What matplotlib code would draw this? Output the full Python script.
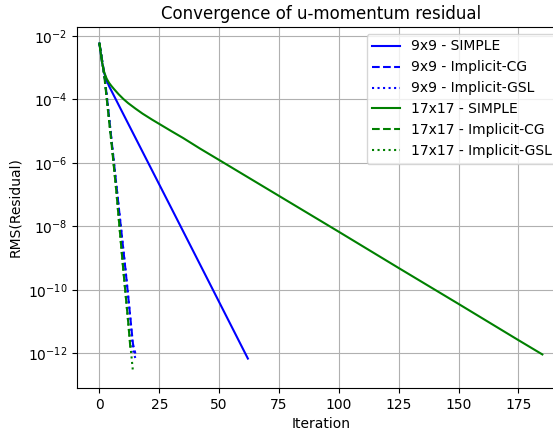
import matplotlib
matplotlib.use("Agg")
import matplotlib.pyplot as plt
from matplotlib.ticker import NullLocator

# RMS residual of the u-momentum equation per iteration (log10 values)
simple_9_iter = [0, 1, 2, 3, 4, 5, 10, 18, 30, 45, 62]
simple_9_log = [-2.24, -2.80, -3.18, -3.40, -3.58, -3.73, -4.47, -5.65, -7.42, -9.64, -12.16]

cg_9_iter = list(range(16))
cg_9_log = [-2.24, -2.72, -3.20, -3.85, -4.55, -5.25, -5.95, -6.65,
            -7.35, -8.05, -8.75, -9.45, -10.20, -10.95, -11.70, -12.00]

gsl_9_iter = list(range(16))
gsl_9_log = [-2.24, -2.72, -3.20, -3.85, -4.55, -5.25, -5.95, -6.65,
             -7.35, -8.05, -8.75, -9.45, -10.20, -10.95, -11.90, -12.15]

simple_17_iter = [0, 1, 2, 3, 4, 5, 6, 8, 10, 12, 15, 18, 22, 26, 30, 35,
                  42, 50, 75, 100, 125, 150, 175, 185]
simple_17_log = [-2.24, -2.80, -3.15, -3.35, -3.48, -3.58, -3.67, -3.84, -3.99,
                 -4.12, -4.29, -4.45, -4.64, -4.82, -5.00, -5.22, -5.55, -5.91,
                 -7.04, -8.17, -9.31, -10.44, -11.58, -12.03]

cg_17_iter = list(range(14))
cg_17_log = [-2.24, -2.74, -3.24, -3.95, -4.65, -5.35, -6.10, -6.85,
             -7.70, -8.55, -9.40, -10.20, -11.00, -11.90]

gsl_17_iter = list(range(15))
gsl_17_log = [-2.24, -2.74, -3.24, -3.95, -4.65, -5.35, -6.10, -6.85,
              -7.70, -8.55, -9.40, -10.20, -11.00, -11.80, -12.57]

series = [
    ("9x9 - SIMPLE", simple_9_iter, simple_9_log, "b", "-"),
    ("9x9 - Implicit-CG", cg_9_iter, cg_9_log, "b", "--"),
    ("9x9 - Implicit-GSL", gsl_9_iter, gsl_9_log, "b", ":"),
    ("17x17 - SIMPLE", simple_17_iter, simple_17_log, "g", "-"),
    ("17x17 - Implicit-CG", cg_17_iter, cg_17_log, "g", "--"),
    ("17x17 - Implicit-GSL", gsl_17_iter, gsl_17_log, "g", ":"),
]

fig = plt.figure(figsize=(5.53, 4.32), dpi=100)
W, H = 553, 432
left, right, top, bottom = 77.3, 564.5, 27.0, 388.0
ax = fig.add_axes([left / W, (H - bottom) / H, (right - left) / W, (bottom - top) / H])

for label, it, lg, color, ls in series:
    ax.plot(it, [10.0 ** v for v in lg], color=color, linestyle=ls, label=label)

ax.set_yscale("log")
ax.yaxis.set_minor_locator(NullLocator())
ax.grid(True)
ax.set_title("Convergence of u-momentum residual")
ax.set_xlabel("Iteration")
ax.set_ylabel("RMS(Residual)")
ax.legend(loc="upper right")

fig.savefig("out.png", dpi=100)
